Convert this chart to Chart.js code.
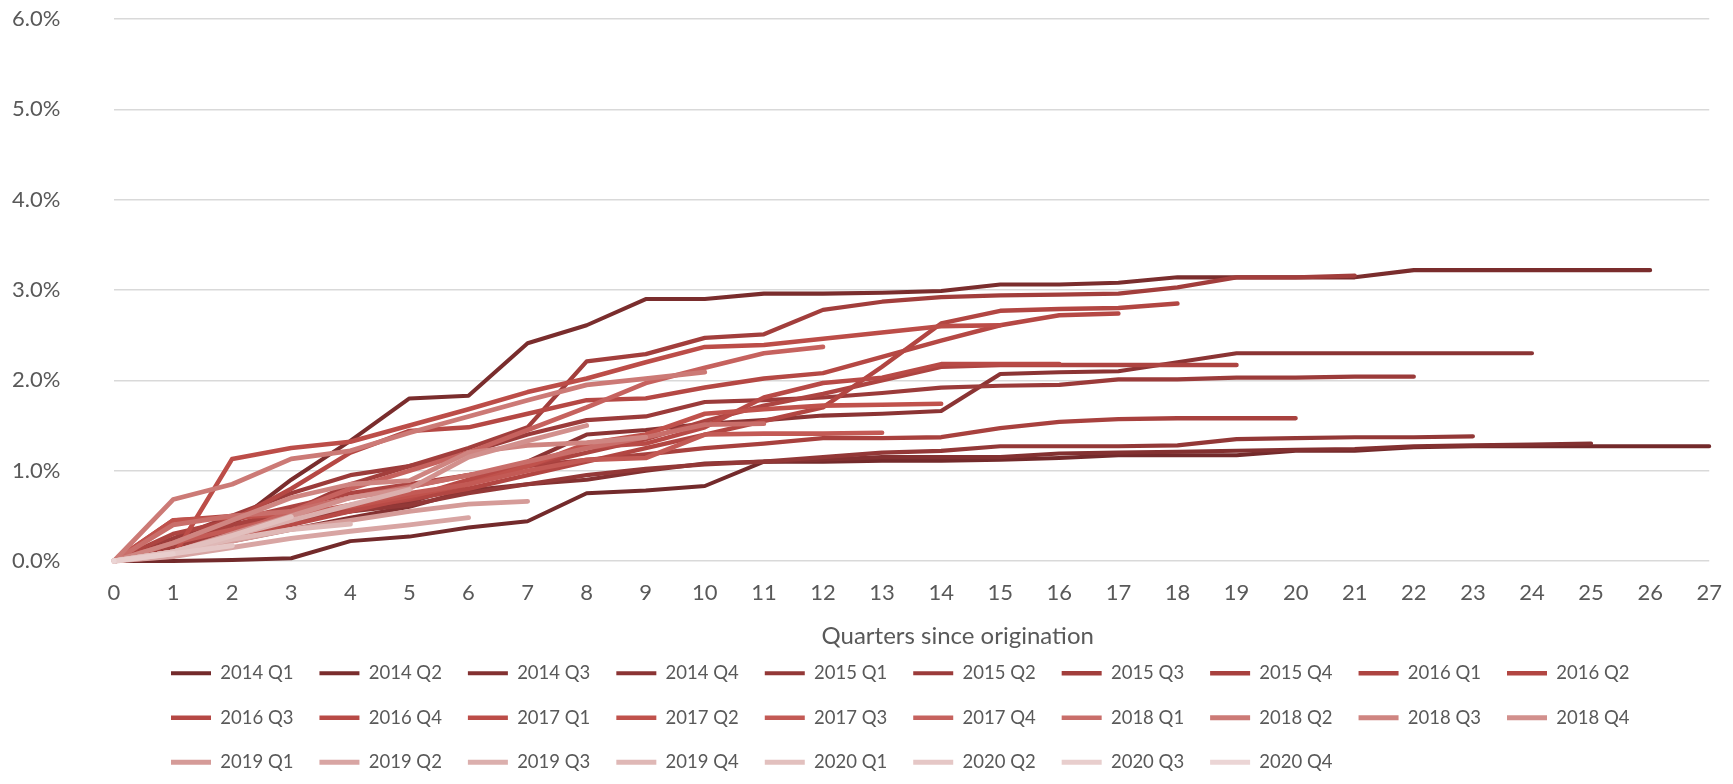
<!DOCTYPE html>
<html>
<head>
<meta charset="utf-8">
<script src="https://cdn.jsdelivr.net/npm/chart.js@4.4.0/dist/chart.umd.min.js"></script>
<style>
  html, body { margin: 0; padding: 0; background: #fff; }
  canvas { display: block; }
</style>
</head>
<body>
<canvas id="myChart" width="1733" height="784"></canvas>
<script>
// quarters since origination (x categories)
const quarters = ['0','1','2','3','4','5','6','7','8','9','10','11','12','13','14','15','16','17','18','19','20','21','22','23','24','25','26','27'];
const yTicks = [0, 1, 2, 3, 4, 5, 6];

const cohorts = ['2014 Q1','2014 Q2','2014 Q3','2014 Q4','2015 Q1','2015 Q2','2015 Q3','2015 Q4',
  '2016 Q1','2016 Q2','2016 Q3','2016 Q4','2017 Q1','2017 Q2','2017 Q3','2017 Q4',
  '2018 Q1','2018 Q2','2018 Q3','2018 Q4','2019 Q1','2019 Q2','2019 Q3','2019 Q4',
  '2020 Q1','2020 Q2','2020 Q3','2020 Q4'];

const colours = ['#732a2b','#7a2d2d','#833131','#8b3434','#933837','#9b3b3a','#a23e3c','#a8413e',
  '#ad4441','#b24642','#b54844','#b84a46','#bc4d48','#c0524c','#c35a55','#c6625e',
  '#c96e6a','#cc7a76','#cf8581','#d2908d','#d59b98','#d8a5a3','#dbafad','#dfb8b6',
  '#e2c0be','#e5c7c6','#e8cecd','#ebd5d5'];

// cumulative loss rate, %
const q2014_1 = [0,0.00,0.01,0.03,0.22,0.27,0.37,0.44,0.75,0.78,0.83,1.10,1.10,1.11,1.11,1.12,1.14,1.17,1.17,1.17,1.22,1.22,1.26,1.27,1.27,1.27,1.27,1.27];
const q2014_2 = [0,0.05,0.40,0.90,1.33,1.80,1.83,2.41,2.61,2.90,2.90,2.96,2.96,2.97,2.99,3.06,3.06,3.08,3.14,3.14,3.14,3.14,3.22,3.22,3.22,3.22,3.22];
const q2014_3 = [0,0.10,0.22,0.35,0.48,0.60,0.78,0.85,0.90,1.00,1.08,1.10,1.12,1.15,1.15,1.15,1.19,1.20,1.21,1.22,1.23,1.24,1.27,1.28,1.29,1.30];
const q2014_4 = [0,0.15,0.30,0.45,0.55,0.65,0.85,1.10,1.40,1.45,1.52,1.56,1.61,1.63,1.66,2.07,2.09,2.10,2.20,2.30,2.30,2.30,2.30,2.30,2.30];
const q2015_1 = [0,0.20,0.35,0.45,0.55,0.62,0.75,0.85,0.95,1.02,1.07,1.10,1.15,1.20,1.22,1.27,1.27,1.27,1.28,1.35,1.36,1.37,1.37,1.38];
const q2015_2 = [0,0.25,0.50,0.75,0.95,1.05,1.20,1.40,1.56,1.60,1.76,1.78,1.81,1.86,1.92,1.94,1.95,2.01,2.01,2.03,2.03,2.04,2.04];
const q2015_3 = [0,0.15,0.35,0.55,0.85,1.05,1.25,1.48,2.21,2.29,2.47,2.51,2.78,2.87,2.92,2.94,2.95,2.96,3.03,3.14,3.14,3.16];
const q2015_4 = [0,0.20,0.40,0.55,0.70,0.82,0.95,1.05,1.12,1.18,1.25,1.30,1.36,1.36,1.37,1.47,1.54,1.57,1.58,1.58,1.58];
const q2016_1 = [0,0.30,0.45,0.60,0.75,0.85,0.95,1.05,1.20,1.35,1.55,1.72,1.85,2.00,2.15,2.17,2.17,2.17,2.17,2.17];
const q2016_2 = [0,0.45,0.50,0.52,0.58,0.68,0.80,0.95,1.10,1.25,1.40,1.55,1.70,2.15,2.63,2.77,2.79,2.80,2.85];
const q2016_3 = [0,0.20,0.45,0.80,1.20,1.44,1.48,1.63,1.78,1.80,1.92,2.02,2.08,2.26,2.44,2.61,2.72,2.74];
const q2016_4 = [0,0.10,0.25,0.40,0.55,0.70,0.90,1.05,1.26,1.30,1.48,1.81,1.97,2.03,2.18,2.18,2.18];
const q2017_1 = [0,0.05,1.13,1.25,1.32,1.50,1.68,1.87,2.02,2.20,2.37,2.39,2.46,2.53,2.60,2.61];
const q2017_2 = [0,0.45,0.48,0.52,0.60,0.72,0.85,1.05,1.30,1.40,1.63,1.68,1.72,1.73,1.74];
const q2017_3 = [0,0.20,0.35,0.50,0.62,0.75,0.85,1.00,1.12,1.14,1.40,1.41,1.41,1.42];
const q2017_4 = [0,0.10,0.30,0.55,0.80,1.00,1.20,1.45,1.70,1.97,2.14,2.30,2.37];
const q2018_1 = [0,0.40,0.50,0.55,0.70,0.82,0.95,1.10,1.25,1.37,1.51,1.52];
const q2018_2 = [0,0.68,0.85,1.13,1.22,1.42,1.60,1.78,1.95,2.02,2.09];
const q2018_3 = [0,0.20,0.45,0.70,0.85,0.89,1.20,1.28,1.31,1.37];
const q2018_4 = [0,0.10,0.30,0.50,0.70,0.80,1.15,1.33,1.50];
const q2019_1 = [0,0.10,0.22,0.35,0.45,0.55,0.63,0.66];
const q2019_2 = [0,0.05,0.15,0.25,0.33,0.40,0.48];
const q2019_3 = [0,0.10,0.28,0.45,0.62,0.79];
const q2019_4 = [0,0.10,0.24,0.35,0.41];
const q2020_1 = [0,0.10,0.28,0.49];
const q2020_2 = [0,0.08,0.17];
const q2020_3 = [0,0.08];
const q2020_4 = [0];

const series = [q2014_1,q2014_2,q2014_3,q2014_4,q2015_1,q2015_2,q2015_3,q2015_4,
  q2016_1,q2016_2,q2016_3,q2016_4,q2017_1,q2017_2,q2017_3,q2017_4,
  q2018_1,q2018_2,q2018_3,q2018_4,q2019_1,q2019_2,q2019_3,q2019_4,
  q2020_1,q2020_2,q2020_3,q2020_4];

const txt = '#595959';
const fam = 'Lato, "Open Sans", sans-serif';

const datasets = series.map(function(vals, i) {
  return {
    label: cohorts[i],
    data: vals,
    borderColor: colours[i],
    backgroundColor: colours[i],
    borderWidth: 4.0 + 1.2 * i / 27,
    borderCapStyle: 'round',
    borderJoinStyle: 'round',
    pointRadius: 0,
    pointHoverRadius: 0,
    tension: 0,
    fill: false,
    clip: 8,
    order: 27 - i   // later cohorts drawn on top
  };
});

// put the legend block where the original has it
const legendPlacer = {
  id: 'legendPlacer',
  afterLayout(chart) {
    const lg = chart.legend;
    const w = lg.right - lg.left;
    lg.left = 145; lg.right = 145 + w;
    lg.top = 638; lg.bottom = 638 + 146;
  }
};

// the axis title sits a little right of centre in the original
const pad = '\u00a0'.repeat(15);

const config = {
  type: 'line',
  data: { labels: quarters, datasets: datasets },
  options: {
    responsive: false,
    animation: false,
    devicePixelRatio: 1,
    layout: { padding: { left: 12, right: 21, top: 19, bottom: 0 } },
    plugins: {
      tooltip: { enabled: false },
      legend: {
        position: 'bottom',
        align: 'start',
        fullSize: false,
        maxHeight: 123,
        labels: {
          sort: function(a, b) { return a.datasetIndex - b.datasetIndex; },
          usePointStyle: true,
          pointStyle: 'line',
          pointStyleWidth: 40,
          padding: 26,
          color: txt,
          font: { family: fam, size: 18.5 }
        }
      }
    },
    scales: {
      x: {
        type: 'category',
        offset: false,
        grid: { display: false },
        border: { display: false },
        ticks: { color: txt, font: { family: fam, size: 22 }, padding: 11, maxRotation: 0, autoSkip: false },
        title: { display: true, text: pad + 'Quarters since origination', color: txt,
                 font: { family: fam, size: 24 }, padding: { top: 0, bottom: 10 } },
        afterFit: function(scale) { scale.height = 100; }
      },
      y: {
        min: 0,
        max: 6,
        afterBuildTicks: function(scale) { scale.ticks = yTicks.map(v => ({ value: v })); },
        grid: { color: '#d9d9d9', lineWidth: 1.5, drawTicks: false },
        border: { display: false },
        ticks: {
          color: txt,
          font: { family: fam, size: 22 },
          padding: 4,
          crossAlign: 'far',
          callback: function(v) { return v.toFixed(1) + '%'; }
        },
        afterFit: function(scale) { scale.width = 102; }
      }
    }
  },
  plugins: [legendPlacer]
};

const myChart = new Chart(document.getElementById('myChart'), config);
</script>
</body>
</html>
